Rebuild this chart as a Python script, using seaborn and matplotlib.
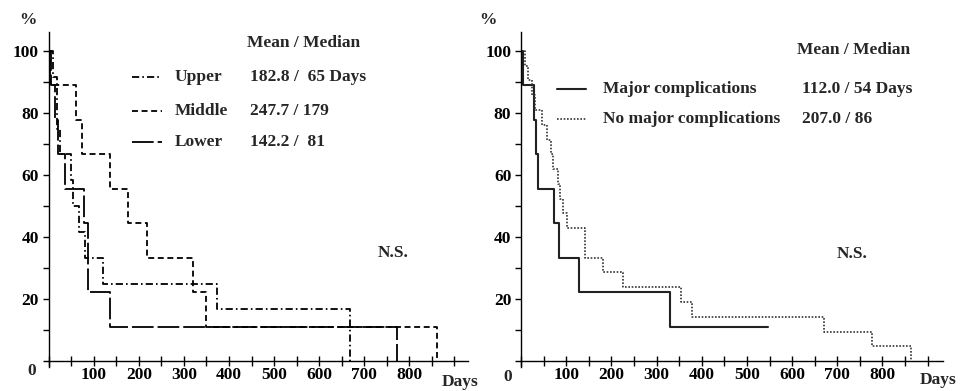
import matplotlib
matplotlib.use('Agg')
import matplotlib.pyplot as plt
import seaborn as sns
from matplotlib.lines import Line2D

sns.set_theme(style='ticks')
plt.rcParams['font.family'] = ['Liberation Serif', 'DejaVu Serif']
plt.rcParams['font.weight'] = 'bold'

# ---------------- data (Kaplan-Meier steps: day, survival %) ----------------
upper_days = [0, 10, 18, 25, 49, 55, 68, 80, 121, 373, 669]
upper_surv = [100, 91.7, 75.0, 66.7, 58.3, 50.0, 41.7, 33.3, 25.0, 16.7, 0]

middle_days = [0, 3, 61, 73, 136, 175, 217, 321, 350, 861]
middle_surv = [100, 88.9, 77.8, 66.7, 55.6, 44.4, 33.3, 22.2, 11.1, 0]

lower_days = [0, 5, 15, 20, 36, 78, 88, 136, 772]
lower_surv = [100, 88.9, 77.8, 66.7, 55.6, 44.4, 22.2, 11.1, 0]

major_days = [0, 5, 29, 33, 37, 74, 85, 128, 330, 546]
major_surv = [100, 88.9, 77.8, 66.7, 55.6, 44.4, 33.3, 22.2, 11.1, 11.1]

nomajor_days = [0, 9, 16, 24, 31, 46, 57, 66, 70, 81, 86, 94, 102, 142, 181,
                226, 355, 378, 671, 776, 864]
nomajor_surv = [100, 95.2, 90.5, 85.7, 81.0, 76.2, 71.4, 66.7, 61.9, 57.1, 52.4,
                47.6, 42.9, 33.3, 28.6, 23.8, 19.0, 14.3, 9.5, 4.8, 0]

left_names = ['Upper', 'Middle', 'Lower']
left_stats = ['182.8 /  65 Days', '247.7 / 179', '142.2 /  81']
right_names = ['Major complications', 'No major complications']
right_stats = ['112.0 / 54 Days', '207.0 / 86']

x_ticks = list(range(0, 901, 50))
x_labels = ['' if (t % 100 or t in (0, 900)) else str(t) for t in x_ticks]
y_ticks = list(range(0, 101, 10))
y_labels = [str(t) if (t % 20 == 0 and t > 0) else '' for t in y_ticks]

# ---------------- styles ----------------
ls_upper = (0, (4, 1.7, 0.9, 1.7))
ls_middle = (0, (3.3, 2))
ls_lower = (0, (12, 2.2))
ls_major = '-'
ls_nomajor = (0, (1, 1))
FS = 12.5
W, H = 960, 391

fig = plt.figure(figsize=(9.6, 3.91), dpi=100)
ax1 = fig.add_axes([48.7 / W, 1 - 366.6 / H, 419.2 / W, 334.2 / H])
ax2 = fig.add_axes([521 / W, 1 - 366.6 / H, 422 / W, 334.2 / H])


def km(ax, d, s, ls, lw=1.3, color='black'):
    sns.lineplot(x=d, y=s, ax=ax, drawstyle='steps-post', color=color,
                 linewidth=lw, linestyle=ls, estimator=None, sort=False)


km(ax1, upper_days, upper_surv, ls_upper)
km(ax1, middle_days, middle_surv, ls_middle)
km(ax1, lower_days, lower_surv, ls_lower)
km(ax2, major_days, major_surv, ls_major, lw=1.5, color='#222222')
km(ax2, nomajor_days, nomajor_surv, ls_nomajor, lw=1.2, color='#333333')

for ax, xmax in ((ax1, 930), (ax2, 934)):
    ax.set_xlim(0, xmax)
    ax.set_ylim(-1.8, 106)
    ax.spines['top'].set_visible(False)
    ax.spines['right'].set_visible(False)
    ax.spines['bottom'].set_position(('data', 0))
    for sp in ('left', 'bottom'):
        ax.spines[sp].set_linewidth(1.0)
        ax.spines[sp].set_color('black')
    ax.set_xticks(x_ticks)
    ax.set_xticklabels(x_labels, fontsize=FS, fontweight='bold')
    ax.set_yticks(y_ticks)
    ax.set_yticklabels(y_labels, fontsize=FS, fontweight='bold')
    ax.tick_params(axis='x', direction='inout', length=7, width=1.0, pad=1,
                   colors='black')
    ax.tick_params(axis='y', direction='out', length=4, width=1.0, pad=3,
                   colors='black')
    ax.set_xlabel('')
    ax.set_ylabel('')
    ax.grid(False)


def ftext(x, y, s, ha='left', va='center', fs=FS):
    fig.text(x / W, 1 - y / H, s, ha=ha, va=va, fontsize=fs, fontweight='bold')


def fline(x0, x1, y, ls, lw=1.3, color='black'):
    fig.add_artist(Line2D([x0 / W, x1 / W], [1 - y / H, 1 - y / H],
                          transform=fig.transFigure, linestyle=ls,
                          linewidth=lw, color=color))


# left panel annotations
ftext(28, 20, '%', ha='center')
ftext(32, 371, '0', ha='center')
ftext(442, 382, 'Days')
ftext(247, 43, 'Mean / Median')
for yy, name, st, ls in zip([77, 111, 142], left_names, left_stats,
                            [ls_upper, ls_middle, ls_lower]):
    fline(132, 162, yy, ls)
    ftext(175, yy, name)
    ftext(250, yy, st)
ftext(378, 253, 'N.S.')

# right panel annotations
ftext(488, 20, '%', ha='center')
ftext(508, 377, '0', ha='center')
ftext(920, 380, 'Days')
ftext(797, 50, 'Mean / Median')
for yy, name, st, ls, lw, c in zip([89, 119], right_names, right_stats,
                                   [ls_major, ls_nomajor], [1.5, 1.2],
                                   ['#222222', '#333333']):
    fline(557, 586, yy, ls, lw, c)
    ftext(603, yy, name)
    ftext(802, yy, st)
ftext(837, 254, 'N.S.')

fig.savefig('out.png', dpi=100)
